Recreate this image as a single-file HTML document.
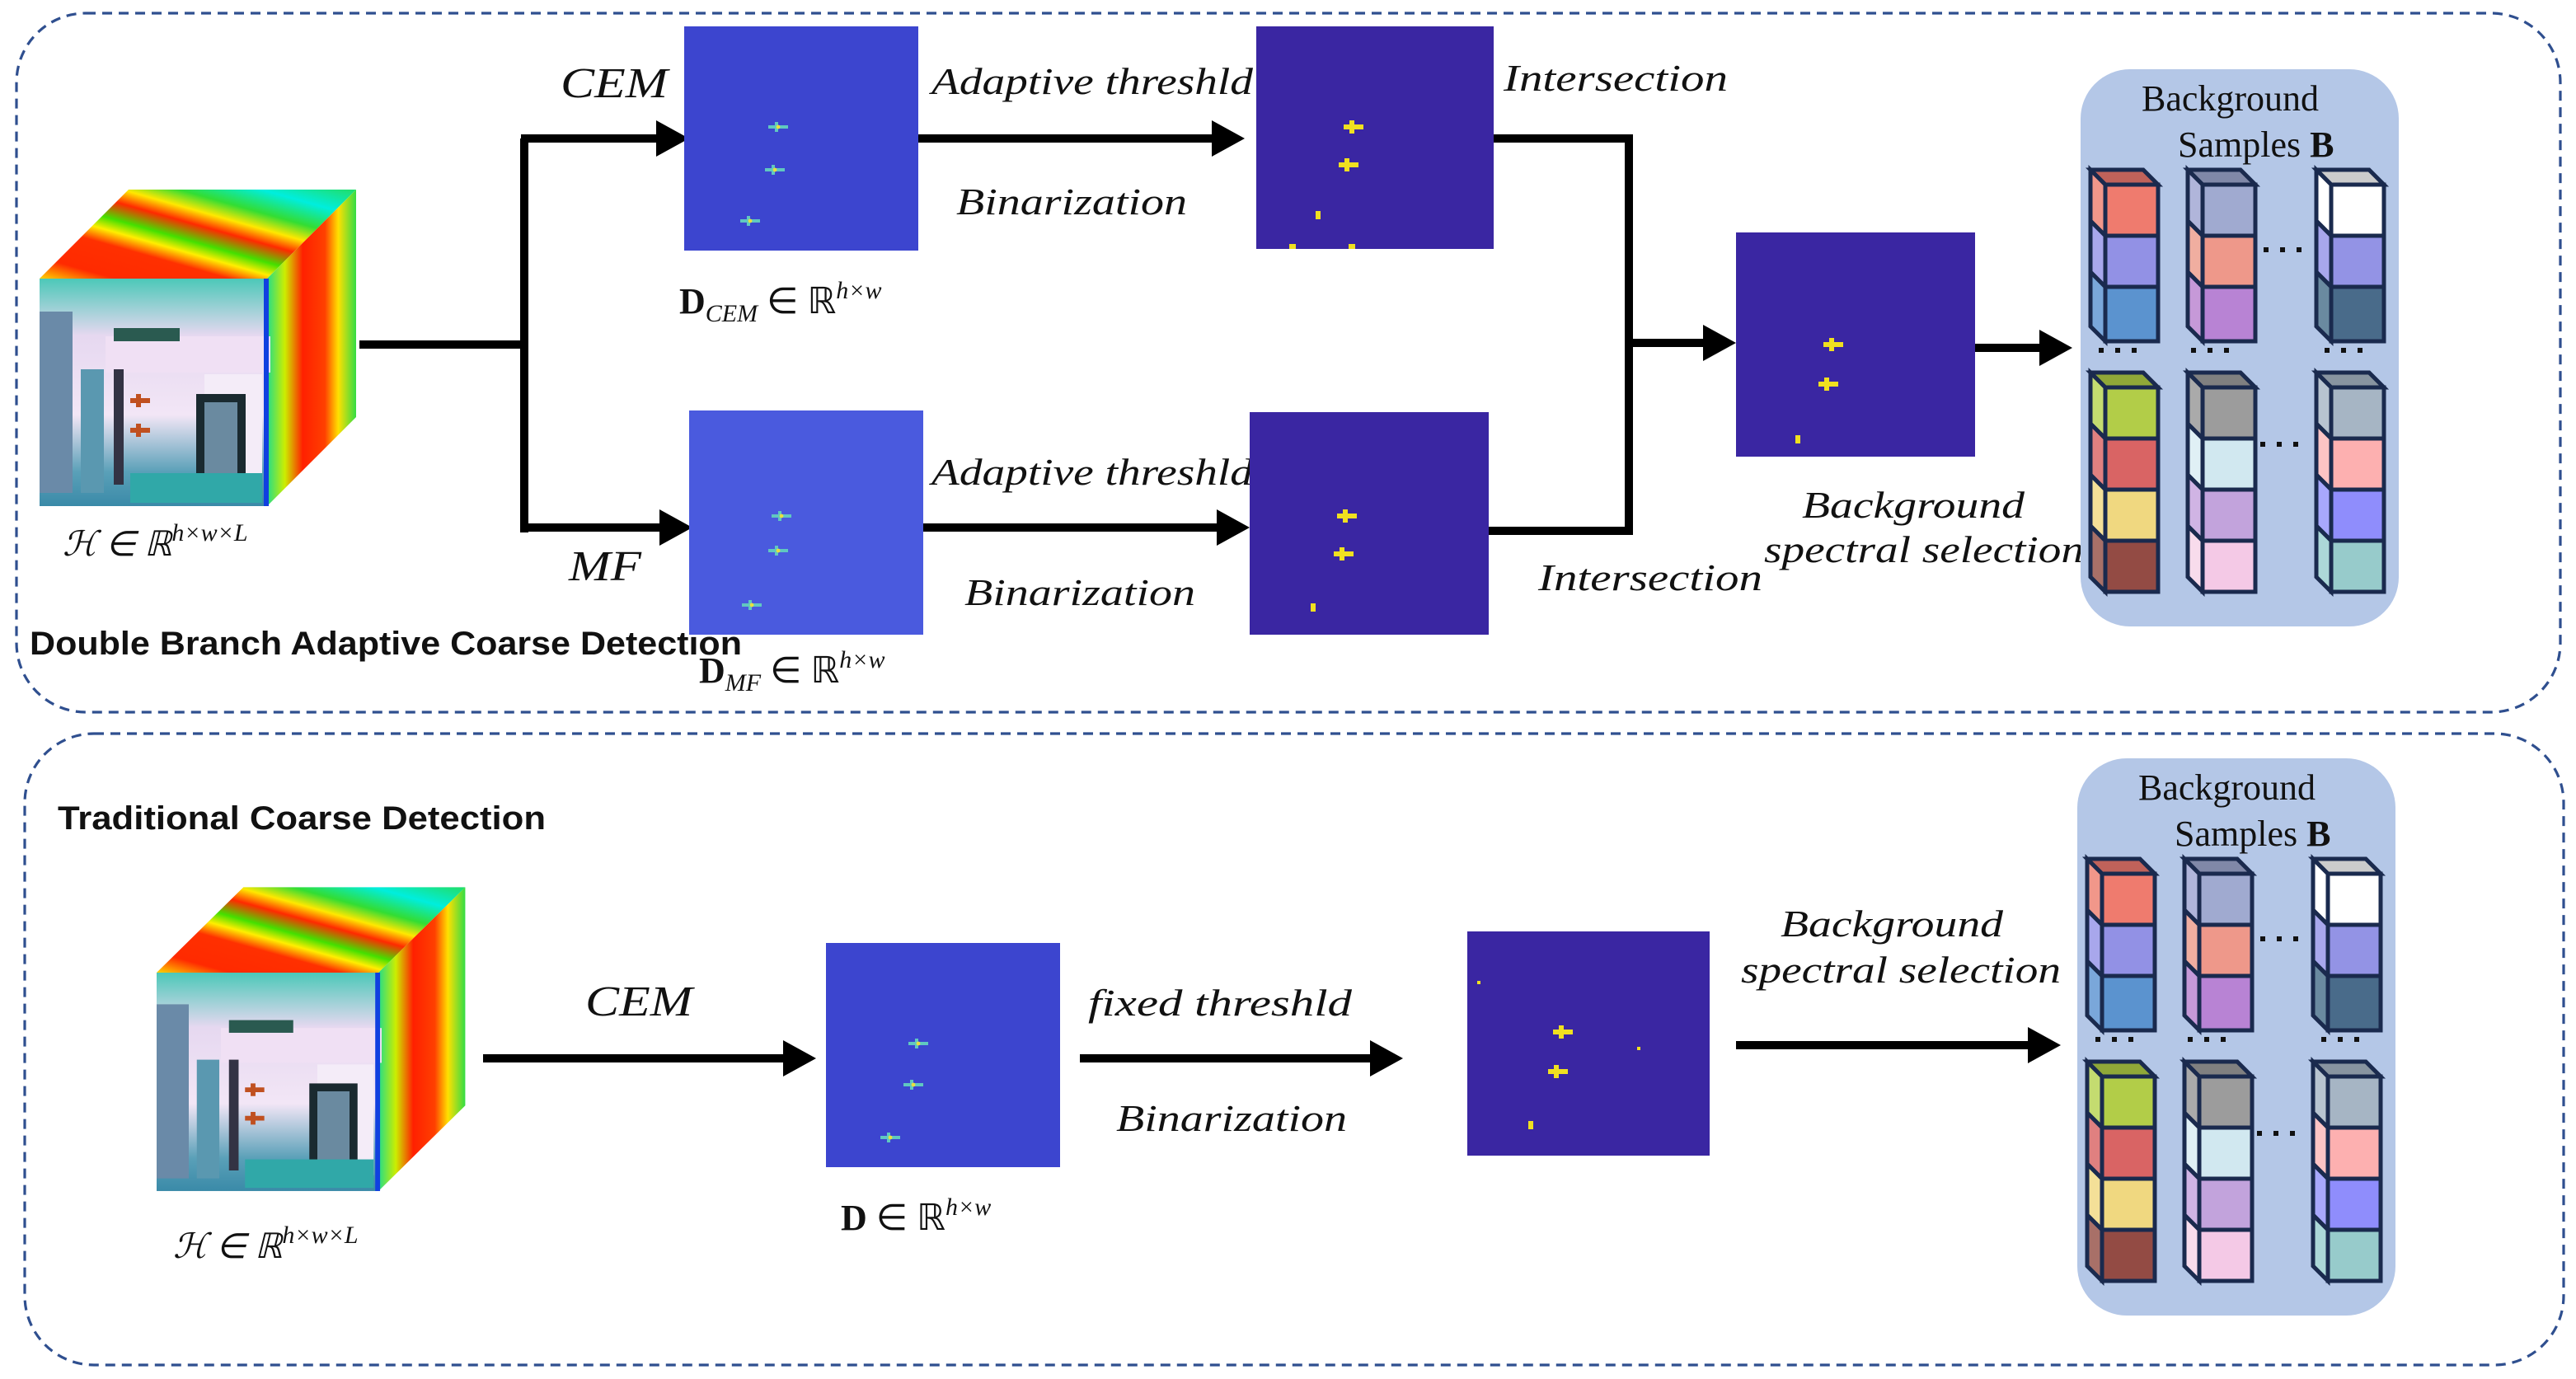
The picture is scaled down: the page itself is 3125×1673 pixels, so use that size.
<!DOCTYPE html>
<html><head><meta charset="utf-8"><style>
html,body{margin:0;padding:0;background:#fff;}
svg{display:block;}
.it{font-family:"Liberation Serif",serif;font-style:italic;fill:#111;}
.rm{font-family:"Liberation Serif",serif;fill:#111;}
.bd{font-family:"Liberation Sans",sans-serif;font-weight:bold;fill:#111;}
</style></head><body>
<svg width="3125" height="1673" viewBox="0 0 1562.5 836.5" xmlns="http://www.w3.org/2000/svg">
<defs>
<linearGradient id="topg" x1="0" y1="1" x2="1" y2="0">
<stop offset="0" stop-color="#ffd400"/><stop offset="0.12" stop-color="#ff2a00"/><stop offset="0.3" stop-color="#ff3000"/><stop offset="0.38" stop-color="#ffee00"/><stop offset="0.45" stop-color="#44e000"/><stop offset="0.55" stop-color="#ff2a00"/><stop offset="0.63" stop-color="#ffe800"/><stop offset="0.72" stop-color="#33dd33"/><stop offset="0.85" stop-color="#00eedd"/><stop offset="1" stop-color="#22dd66"/>
</linearGradient>
<linearGradient id="sideg" x1="0" y1="0" x2="1" y2="0">
<stop offset="0" stop-color="#22dd88"/><stop offset="0.2" stop-color="#ccee00"/><stop offset="0.4" stop-color="#ff2000"/><stop offset="0.65" stop-color="#ff4000"/><stop offset="0.8" stop-color="#ffe000"/><stop offset="1" stop-color="#33dd44"/>
</linearGradient>
<linearGradient id="frontg" x1="0" y1="0" x2="0" y2="1">
<stop offset="0" stop-color="#4cc8b8"/><stop offset="0.25" stop-color="#e6d8f0"/><stop offset="0.6" stop-color="#f2e6f6"/><stop offset="0.85" stop-color="#5aa0b8"/><stop offset="1" stop-color="#3a8aa8"/>
</linearGradient>
<g id="hcube">
<polygon points="0,0 54,-54 192,-54 138,0" fill="url(#topg)"/>
<polygon points="138,0 192,-54 192,84 138,138" fill="url(#sideg)"/>
<rect x="0" y="0" width="138" height="138" fill="url(#frontg)"/>
<rect x="0" y="20" width="20" height="110" fill="#6a8aa8"/>
<rect x="40" y="35" width="100" height="22" fill="#f0e0f4"/>
<rect x="45" y="30" width="40" height="8" fill="#2a5a50"/>
<rect x="100" y="58" width="35" height="70" fill="#f4ecf8"/>
<rect x="95" y="70" width="30" height="55" fill="#1a2a30"/>
<rect x="100" y="75" width="20" height="45" fill="#6a8aa0"/>
<rect x="25" y="55" width="14" height="75" fill="#5a98b0"/>
<rect x="55" y="118" width="80" height="18" fill="#30a8a8"/>
<rect x="45" y="55" width="6" height="70" fill="#334"/>
<path d="M55 74 h12 M60 70 v8 M55 92 h12 M60 88 v8" stroke="#c05020" stroke-width="3"/>
<rect x="136" y="0" width="3" height="138" fill="#1040e0"/>
</g>
<g id="panel">
<rect x="1262" y="42" width="193" height="338" rx="30" fill="#b4c7e7"/>
<text class="rm" x="1299" y="67" font-size="22">Background</text>
<text class="rm" x="1321" y="95" font-size="22">Samples <tspan font-weight="bold">B</tspan></text>
<g stroke="#1a2a4e" stroke-width="2.5" stroke-linejoin="miter">
<polygon points="1268,103 1300,103 1309,112 1277,112" fill="#c0625a"/>
<polygon points="1268,103 1277,112 1277,143 1268,134" fill="#f1978a"/>
<polygon points="1268,134 1277,143 1277,174 1268,165" fill="#a8a7ec"/>
<polygon points="1268,165 1277,174 1277,207 1268,198" fill="#7aa7da"/>
<rect x="1277" y="112" width="32" height="31" fill="#ef7b6e"/>
<rect x="1277" y="143" width="32" height="31" fill="#9291e5"/>
<rect x="1277" y="174" width="32" height="33" fill="#5b93cf"/>
<polygon points="1327,103 1359,103 1368,112 1336,112" fill="#8088a8"/>
<polygon points="1327,103 1336,112 1336,143 1327,134" fill="#b0b5da"/>
<polygon points="1327,134 1336,143 1336,174 1327,165" fill="#f0aea0"/>
<polygon points="1327,165 1336,174 1336,207 1327,198" fill="#c699d8"/>
<rect x="1336" y="112" width="32" height="31" fill="#a0aad0"/>
<rect x="1336" y="143" width="32" height="31" fill="#ee988a"/>
<rect x="1336" y="174" width="32" height="33" fill="#b883d4"/>
<polygon points="1405,103 1437,103 1446,112 1414,112" fill="#cccccc"/>
<polygon points="1405,103 1414,112 1414,143 1405,134" fill="#ffffff"/>
<polygon points="1405,134 1414,143 1414,174 1405,165" fill="#a8a7ec"/>
<polygon points="1405,165 1414,174 1414,207 1405,198" fill="#6a8aa0"/>
<rect x="1414" y="112" width="32" height="31" fill="#ffffff"/>
<rect x="1414" y="143" width="32" height="31" fill="#9393e5"/>
<rect x="1414" y="174" width="32" height="33" fill="#496b8a"/>
<polygon points="1268,226 1300,226 1309,235 1277,235" fill="#90a838"/>
<polygon points="1268,226 1277,235 1277,266 1268,257" fill="#c4dc70"/>
<polygon points="1268,257 1277,266 1277,297 1268,288" fill="#e08080"/>
<polygon points="1268,288 1277,297 1277,328 1268,319" fill="#f4e098"/>
<polygon points="1268,319 1277,328 1277,359 1268,350" fill="#a87068"/>
<rect x="1277" y="235" width="32" height="31" fill="#b2cd48"/>
<rect x="1277" y="266" width="32" height="31" fill="#d96464"/>
<rect x="1277" y="297" width="32" height="31" fill="#f0d880"/>
<rect x="1277" y="328" width="32" height="31" fill="#934b44"/>
<polygon points="1327,226 1359,226 1368,235 1336,235" fill="#808080"/>
<polygon points="1327,226 1336,235 1336,266 1327,257" fill="#aaaaaa"/>
<polygon points="1327,257 1336,266 1336,297 1327,288" fill="#e0f0f5"/>
<polygon points="1327,288 1336,297 1336,328 1327,319" fill="#d0b4e4"/>
<polygon points="1327,319 1336,328 1336,359 1327,350" fill="#f8dcec"/>
<rect x="1336" y="235" width="32" height="31" fill="#9c9c9c"/>
<rect x="1336" y="266" width="32" height="31" fill="#d1e8f0"/>
<rect x="1336" y="297" width="32" height="31" fill="#c2a3dc"/>
<rect x="1336" y="328" width="32" height="31" fill="#f4c9e6"/>
<polygon points="1405,226 1437,226 1446,235 1414,235" fill="#8894a0"/>
<polygon points="1405,226 1414,235 1414,266 1405,257" fill="#b8c4d0"/>
<polygon points="1405,257 1414,266 1414,297 1405,288" fill="#fdc4c4"/>
<polygon points="1405,288 1414,297 1414,328 1405,319" fill="#a8a8fc"/>
<polygon points="1405,319 1414,328 1414,359 1405,350" fill="#acd8d8"/>
<rect x="1414" y="235" width="32" height="31" fill="#a6b5c4"/>
<rect x="1414" y="266" width="32" height="31" fill="#fdb0b0"/>
<rect x="1414" y="297" width="32" height="31" fill="#8f8dfc"/>
<rect x="1414" y="328" width="32" height="31" fill="#97cbcb"/>
</g>
<g fill="#111">
<rect x="1273" y="211" width="3" height="3"/><rect x="1283" y="211" width="3" height="3"/><rect x="1293" y="211" width="3" height="3"/>
<rect x="1329" y="211" width="3" height="3"/><rect x="1339" y="211" width="3" height="3"/><rect x="1349" y="211" width="3" height="3"/>
<rect x="1410" y="211" width="3" height="3"/><rect x="1420" y="211" width="3" height="3"/><rect x="1430" y="211" width="3" height="3"/>
<rect x="1373" y="150" width="3" height="3"/><rect x="1383" y="150" width="3" height="3"/><rect x="1393" y="150" width="3" height="3"/>
<rect x="1371" y="268" width="3" height="3"/><rect x="1381" y="268" width="3" height="3"/><rect x="1391" y="268" width="3" height="3"/>
</g>
</g>
<g id="plane"><path d="M-6 0 h12 M-1 -4 v8" stroke="#f0e020" stroke-width="3"/></g>
<g id="dplane"><path d="M-6 0 h12 M-1 -3 v6" stroke="#60c8c0" stroke-width="2"/><circle cx="0" cy="0" r="1.2" fill="#e8e040"/></g>
</defs>

<rect x="10" y="8" width="1543" height="424" rx="42" fill="none" stroke="#2f4f8f" stroke-width="1.6" stroke-dasharray="6,4"/>
<rect x="15" y="445" width="1540" height="383" rx="42" fill="none" stroke="#2f4f8f" stroke-width="1.6" stroke-dasharray="6,4"/>

<use href="#hcube" transform="translate(24,169)"/>
<text class="it" x="38" y="337" font-size="21">ℋ ∈ ℝ<tspan font-size="15" dy="-9">h×w×L</tspan></text>
<text class="bd" x="18" y="397" font-size="20" textLength="432" lengthAdjust="spacingAndGlyphs">Double Branch Adaptive Coarse Detection</text>

<g stroke="#000" stroke-width="5" fill="none">
<path d="M218 209 H318 M318 84 V323 M316 84 H400 M316 320 H402"/>
<path d="M557 84 H738"/>
<path d="M560 320 H740"/>
<path d="M906 84 H988 V209 M903 322 H988 V207 M986 208 H1036"/>
<path d="M1198 211 H1240"/>
</g>
<g fill="#000">
<polygon points="398,73 418,84 398,95"/>
<polygon points="400,309 420,320 400,331"/>
<polygon points="735,73 755,84 735,95"/>
<polygon points="738,309 758,320 738,331"/>
<polygon points="1033,197 1053,208 1033,219"/>
<polygon points="1237,200 1257,211 1237,222"/>
</g>
<text class="it" x="340" y="59" font-size="26" textLength="65" lengthAdjust="spacingAndGlyphs">CEM</text>
<text class="it" x="345" y="352" font-size="26" textLength="44" lengthAdjust="spacingAndGlyphs">MF</text>

<rect x="415" y="16" width="142" height="136" fill="#3c45cf"/>
<use href="#dplane" x="472" y="77"/><use href="#dplane" x="470" y="103"/><use href="#dplane" x="455" y="134"/>
<text class="rm" x="412" y="190" font-size="22"><tspan font-weight="bold">D</tspan><tspan font-style="italic" font-size="15" dy="5">CEM</tspan><tspan dy="-5"> ∈ ℝ</tspan><tspan font-style="italic" font-size="15" dy="-9">h×w</tspan></text>

<rect x="418" y="249" width="142" height="136" fill="#4a5ade"/>
<use href="#dplane" x="474" y="313"/><use href="#dplane" x="472" y="334"/><use href="#dplane" x="456" y="367"/>
<text class="rm" x="424" y="414" font-size="22"><tspan font-weight="bold">D</tspan><tspan font-style="italic" font-size="15" dy="5">MF</tspan><tspan dy="-5"> ∈ ℝ</tspan><tspan font-style="italic" font-size="15" dy="-9">h×w</tspan></text>

<text class="it" x="565" y="57" font-size="23" textLength="195" lengthAdjust="spacingAndGlyphs">Adaptive threshld</text>
<text class="it" x="580" y="130" font-size="23" textLength="140" lengthAdjust="spacingAndGlyphs">Binarization</text>
<text class="it" x="565" y="294" font-size="23" textLength="195" lengthAdjust="spacingAndGlyphs">Adaptive threshld</text>
<text class="it" x="585" y="367" font-size="23" textLength="140" lengthAdjust="spacingAndGlyphs">Binarization</text>

<rect x="762" y="16" width="144" height="135" fill="#3a26a2"/>
<use href="#plane" x="821" y="77"/><use href="#plane" x="818" y="100"/><rect x="798" y="128" width="3" height="5" fill="#f0e020"/><rect x="782" y="148" width="4" height="3" fill="#f0e020"/><rect x="818" y="148" width="4" height="3" fill="#f0e020"/>
<rect x="758" y="250" width="145" height="135" fill="#3a26a2"/>
<use href="#plane" x="817" y="313"/><use href="#plane" x="815" y="336"/><rect x="795" y="366" width="3" height="5" fill="#f0e020"/>

<text class="it" x="912" y="55" font-size="23" textLength="136" lengthAdjust="spacingAndGlyphs">Intersection</text>
<text class="it" x="933" y="358" font-size="23" textLength="136" lengthAdjust="spacingAndGlyphs">Intersection</text>

<rect x="1053" y="141" width="145" height="136" fill="#3a26a2"/>
<use href="#plane" x="1112" y="209"/><use href="#plane" x="1109" y="233"/><rect x="1089" y="264" width="3" height="5" fill="#f0e020"/>

<text class="it" x="1093" y="314" font-size="23" textLength="135" lengthAdjust="spacingAndGlyphs">Background</text>
<text class="it" x="1070" y="341" font-size="23" textLength="194" lengthAdjust="spacingAndGlyphs">spectral selection</text>

<use href="#panel"/>

<text class="bd" x="35" y="503" font-size="20" textLength="296" lengthAdjust="spacingAndGlyphs">Traditional Coarse Detection</text>
<g transform="translate(95,590) scale(0.975,0.96)"><use href="#hcube"/></g>
<text class="it" x="105" y="763" font-size="21">ℋ ∈ ℝ<tspan font-size="15" dy="-9">h×w×L</tspan></text>

<g stroke="#000" stroke-width="5" fill="none">
<path d="M293 642 H478 M655 642 H834 M1053 634 H1233"/>
</g>
<g fill="#000">
<polygon points="475,631 495,642 475,653"/>
<polygon points="831,631 851,642 831,653"/>
<polygon points="1230,623 1250,634 1230,645"/>
</g>
<text class="it" x="355" y="616" font-size="26" textLength="65" lengthAdjust="spacingAndGlyphs">CEM</text>

<rect x="501" y="572" width="142" height="136" fill="#3c45cf"/>
<use href="#dplane" x="557" y="633"/><use href="#dplane" x="554" y="658"/><use href="#dplane" x="540" y="690"/>
<text class="rm" x="510" y="746" font-size="22"><tspan font-weight="bold">D</tspan> ∈ ℝ<tspan font-style="italic" font-size="15" dy="-9">h×w</tspan></text>

<text class="it" x="660" y="616" font-size="23" textLength="160" lengthAdjust="spacingAndGlyphs">fixed threshld</text>
<text class="it" x="677" y="686" font-size="23" textLength="140" lengthAdjust="spacingAndGlyphs">Binarization</text>

<rect x="890" y="565" width="147" height="136" fill="#3a26a2"/>
<use href="#plane" x="948" y="626"/><use href="#plane" x="945" y="650"/><rect x="927" y="680" width="3" height="5" fill="#f0e020"/><rect x="896" y="595" width="2" height="2" fill="#f0e020"/><rect x="993" y="635" width="2" height="2" fill="#f0e020"/>

<text class="it" x="1080" y="568" font-size="23" textLength="135" lengthAdjust="spacingAndGlyphs">Background</text>
<text class="it" x="1056" y="596" font-size="23" textLength="194" lengthAdjust="spacingAndGlyphs">spectral selection</text>

<g transform="translate(-2,418)"><use href="#panel"/></g>
</svg>
</body></html>
